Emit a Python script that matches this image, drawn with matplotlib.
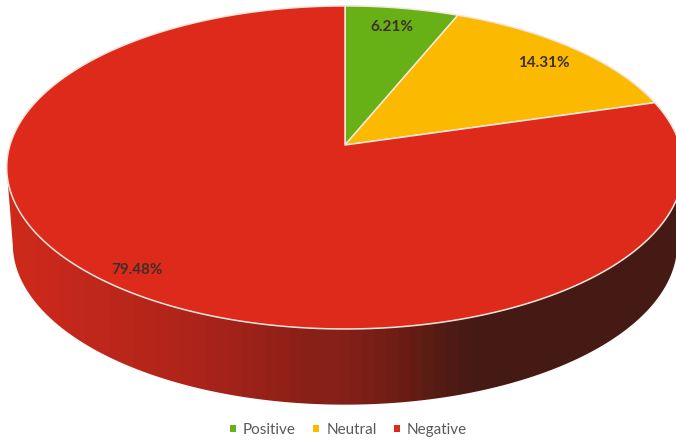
import numpy as np
import matplotlib
matplotlib.use("Agg")
import matplotlib.pyplot as plt
from matplotlib.patches import Patch, Polygon
from matplotlib.colors import LinearSegmentedColormap

categories = ["Positive", "Neutral", "Negative"]
shares = [6.21, 14.31, 79.48]
labels = ["6.21%", "14.31%", "79.48%"]
colors = ["#67B015", "#FBB900", "#DE2A1B"]

W, H = 676, 441
CX, CY = 345, 145          # apex of the pie in pixels
A, B, K = 335, 158.4, 0.139  # perspective of the tilted disc


def project(frac):
    """Map a clockwise fraction of the pie (0 = 12 o'clock) to pixels."""
    th = 2 * np.pi * np.asarray(frac)
    x, y = np.sin(th), np.cos(th)
    d = 1 + K * y
    return CX + A * x / d, CY - B * y / d


fig = plt.figure(figsize=(W / 100, H / 100), dpi=100)
ax = fig.add_axes([0, 0, 1, 1])
ax.set_xlim(0, W)
ax.set_ylim(H, 0)
ax.axis("off")

# Side wall: a gradient clipped to the band between top rim and lower rim
t = np.linspace(0, 1, 1441)
tx, ty = project(t)
lower_x = 345 + (tx - 345) * 0.982
lower_y = 244 + (ty - 167.5) * 0.995
mask = (t > 0.273) & (t < 0.727)
wall_outline = np.vstack([
    np.column_stack([tx[mask], ty[mask]]),
    np.column_stack([lower_x[mask][::-1], lower_y[mask][::-1]]),
])
wall_cmap = LinearSegmentedColormap.from_list("wall", [
    (0.00, "#D02A1C"), (0.148, "#BE271B"), (0.266, "#B0241A"), (0.325, "#A5231A"),
    (0.444, "#8B2018"), (0.51, "#842019"), (0.592, "#6E1D14"), (0.65, "#561C14"),
    (0.695, "#461A14"), (1.00, "#461A14"),
], N=56)
img = ax.imshow(np.linspace(0, 1, 676)[None, :], extent=[0, W, H, 0], cmap=wall_cmap,
                aspect="auto", zorder=1, interpolation="nearest")
clip = Polygon(wall_outline, closed=True, transform=ax.transData, fc="none", ec="none")
ax.add_patch(clip)
img.set_clip_path(clip)
ax.set_xlim(0, W)
ax.set_ylim(H, 0)

# Top face wedges
edges = np.concatenate([[0], np.cumsum(shares)]) / sum(shares)
for i, c in enumerate(colors):
    f = np.linspace(edges[i], edges[i + 1], 300)
    px, py = project(f)
    ax.fill(np.r_[CX, px], np.r_[CY, py], fc=c, ec="#F4E6DC", lw=1.1, zorder=2,
            joinstyle="round")

# Data labels
label_xy = [(392, 27), (544, 63), (137, 270)]
for s, (lx, ly) in zip(labels, label_xy):
    ax.text(lx, ly, s, ha="center", va="center", fontsize=11, fontweight="bold",
            family="Lato", color="#3F2F28", zorder=3)

handles = [Patch(fc=c, ec="none") for c in colors]
ax.legend(handles, categories, loc="center", bbox_to_anchor=(348.5, 430),
          bbox_transform=ax.transData, ncol=3, frameon=False,
          prop={"family": "Lato", "size": 11}, labelcolor="#595959",
          handlelength=0.4, handleheight=0.4, handletextpad=0.45, columnspacing=1.15)

fig.savefig("out.png", dpi=100)
